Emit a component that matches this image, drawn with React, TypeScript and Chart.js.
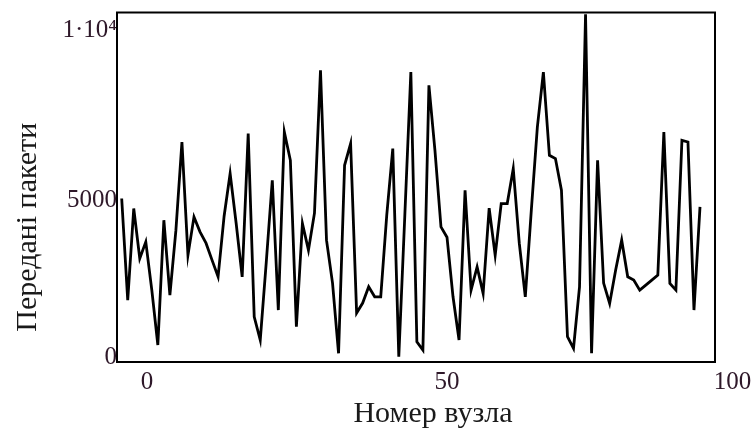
import React, { useEffect, useRef } from "react";
import { Chart, registerables } from "chart.js";

Chart.register(...registerables);

// ---- data ----
const NODE_COUNT = 97;
const NODES: number[] = Array.from({ length: NODE_COUNT }, (_, i) => i);
const PACKETS: number[] = [
  4677, 1771, 4391, 2963, 3437, 2057, 486, 4057, 1914, 3771,
  6295, 3057, 4152, 3723, 3400, 2914, 2437, 4171, 5391, 3971,
  2437, 6534, 1294, 629, 2857, 5200, 1486, 6580, 5771, 1009,
  3963, 3200, 4257, 8343, 3486, 2257, 249, 5629, 6249, 1400,
  1686, 2151, 1866, 1866, 4200, 6106, 151, 4200, 8294, 580,
  343, 7914, 6057, 3866, 3571, 1866, 629, 4914, 2057, 2723,
  1963, 4400, 3057, 4534, 4534, 5534, 3400, 1866, 4343, 6723,
  8294, 5914, 5820, 4914, 723, 391, 2151, 9950, 249, 5771,
  2257, 1677, 2629, 3486, 2437, 2343, 2057, 2200, 2343, 2486,
  6580, 2248, 2057, 6343, 6295, 1486, 4437,
];
const X_TICK_LABELS: string[] = ["0", "50", "100"];
const Y_TICK_LABELS: string[] = ["0", "5000", "1·10⁴"];
const X_TITLE = "Номер вузла";
const Y_TITLE = "Передані пакети";

// Mathcad-like label placement (tick anchors on the axes)
const X_TICK_AT = [1.2, 51.0, 98.4];
const Y_TICK_AT = [143, 4629, 9486];

const SERIF = "'Liberation Serif', 'Times New Roman', serif";
const TICK_COLOR = "#2e1829";

const framePlugin = {
  id: "frameAndTitles",
  afterDatasetsDraw(chart: any) {
    const { ctx, chartArea } = chart;
    const { left, top, right, bottom } = chartArea;
    ctx.save();
    ctx.strokeStyle = "#000";
    ctx.lineWidth = 2;
    ctx.strokeRect(left, top, right - left, bottom - top);
    ctx.restore();
  },
  afterDraw(chart: any) {
    const { ctx, chartArea } = chart;
    const { left, right, top, bottom } = chartArea;
    ctx.save();
    ctx.fillStyle = "#1a1a1a";
    ctx.font = `30px ${SERIF}`;
    ctx.textAlign = "center";
    ctx.textBaseline = "alphabetic";
    ctx.fillText(X_TITLE, (left + right) / 2 + 17, bottom + 60);
    ctx.translate(36, (top + bottom) / 2 + 40);
    ctx.rotate(-Math.PI / 2);
    ctx.fillText(Y_TITLE, 0, 0);
    ctx.restore();
  },
};

export default function App() {
  const canvasRef = useRef<HTMLCanvasElement | null>(null);

  useEffect(() => {
    if (!canvasRef.current) return;
    const chart = new Chart(canvasRef.current, {
      type: "line",
      data: {
        datasets: [
          {
            data: NODES.map((n, i) => ({ x: n, y: PACKETS[i] })),
            borderColor: "#000",
            borderWidth: 2.8,
            pointRadius: 0,
            tension: 0,
            fill: false,
          },
        ],
      },
      options: {
        animation: false,
        responsive: true,
        maintainAspectRatio: false,
        layout: { padding: { top: 12, right: 41, left: 0, bottom: 0 } },
        plugins: {
          legend: { display: false },
          tooltip: { enabled: false },
        },
        scales: {
          x: {
            type: "linear",
            min: -0.78,
            max: 98.49,
            grid: { display: false, drawTicks: false },
            border: { display: false },
            afterBuildTicks: (s: any) => {
              s.ticks = X_TICK_AT.map((v) => ({ value: v }));
            },
            afterFit: (s: any) => {
              s.height = 70;
            },
            ticks: {
              autoSkip: false,
              maxRotation: 0,
              labelOffset: 18,
              padding: 8,
              color: TICK_COLOR,
              font: { family: SERIF, size: 25, lineHeight: 1 },
              callback: (_v: any, idx: number) => X_TICK_LABELS[idx],
            },
          },
          y: {
            type: "linear",
            min: 0,
            max: 10000,
            grid: { display: false, drawTicks: false },
            border: { display: false },
            afterBuildTicks: (s: any) => {
              s.ticks = Y_TICK_AT.map((v) => ({ value: v }));
            },
            afterFit: (s: any) => {
              s.width = 117;
            },
            ticks: {
              autoSkip: false,
              padding: 0,
              color: TICK_COLOR,
              font: { family: SERIF, size: 25, lineHeight: 1 },
              callback: (_v: any, idx: number) => Y_TICK_LABELS[idx],
            },
          },
        },
      },
      plugins: [framePlugin],
    });
    return () => chart.destroy();
  }, []);

  return (
    <div
      style={{
        position: "absolute",
        left: 0,
        top: 0,
        width: 756,
        height: 432,
        background: "#fff",
      }}
    >
      <canvas ref={canvasRef} />
    </div>
  );
}
